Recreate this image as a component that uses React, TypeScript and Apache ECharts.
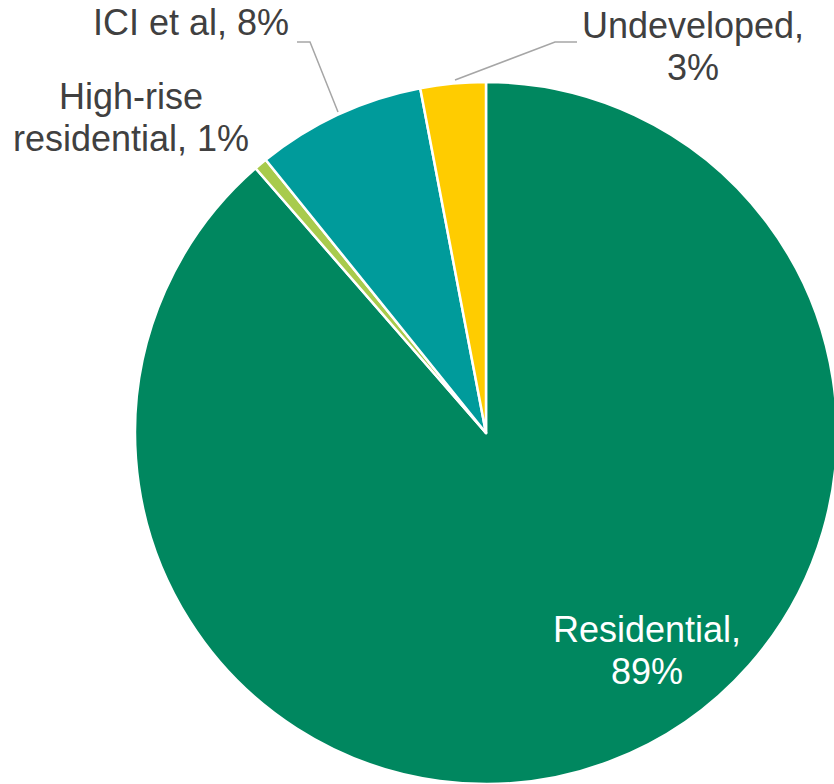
import React, { useEffect, useRef } from "react";
import * as echarts from "echarts";

const categories = ["Residential", "High-rise residential", "ICI et al", "Undeveloped"];
const values = [88.6, 0.6, 7.8, 3.0];
const colors = ["#00875F", "#A8CB4C", "#009B9B", "#FFCC00"];
const labelTemplates = ["Residential,\n{p}%", "High-rise\nresidential, {p}%", "ICI et al, {p}%", "Undeveloped,\n{p}%"];

// label anchor layout (px) for each slice
const labelPlacements = [
  { x: 647, y: 650, lines: null },
  { x: 131, y: 117, lines: null },
  { x: 191, y: 22, lines: [[338, 112], [310, 42], [297, 42]] },
  { x: 693, y: 46, lines: [[455, 80], [555, 42], [577, 42]] },
];

export default function App() {
  const ref = useRef<HTMLDivElement>(null);
  useEffect(() => {
    document.body.style.margin = "0";
    const chart = echarts.init(ref.current!, undefined, { renderer: "svg" });
    chart.setOption({
      animation: false,
      series: [
        {
          type: "pie",
          center: [486, 433],
          radius: [0, 351],
          startAngle: 90,
          clockwise: true,
          percentPrecision: 2,
          avoidLabelOverlap: false,
          itemStyle: { borderColor: "#FFFFFF", borderWidth: 2.5 },
          label: {
            show: true,
            fontFamily: "Arial, 'Liberation Sans', sans-serif",
            fontSize: 36,
            lineHeight: 42,
            color: "#404040",
            align: "center",
            formatter: (params: any) =>
              labelTemplates[params.dataIndex].replace("{p}", String(Math.round(params.percent))),
          },
          labelLine: {
            show: true,
            lineStyle: { color: "#A6A6A6", width: 1.5 },
          },
          labelLayout: (params: any) => {
            const p = labelPlacements[params.dataIndex];
            const out: any = { x: p.x, y: p.y, align: "center", verticalAlign: "middle" };
            if (p.lines) out.labelLinePoints = p.lines;
            return out;
          },
          data: categories.map((name, i) => ({
            name,
            value: values[i],
            itemStyle: { color: colors[i] },
            label: {
              color: i === 0 ? "#FFFFFF" : "#404040",
            },
            labelLine: { show: i >= 2 },
          })),
        },
      ],
    });
    return () => chart.dispose();
  }, []);
  return <div ref={ref} style={{ width: 834, height: 784 }} />;
}
